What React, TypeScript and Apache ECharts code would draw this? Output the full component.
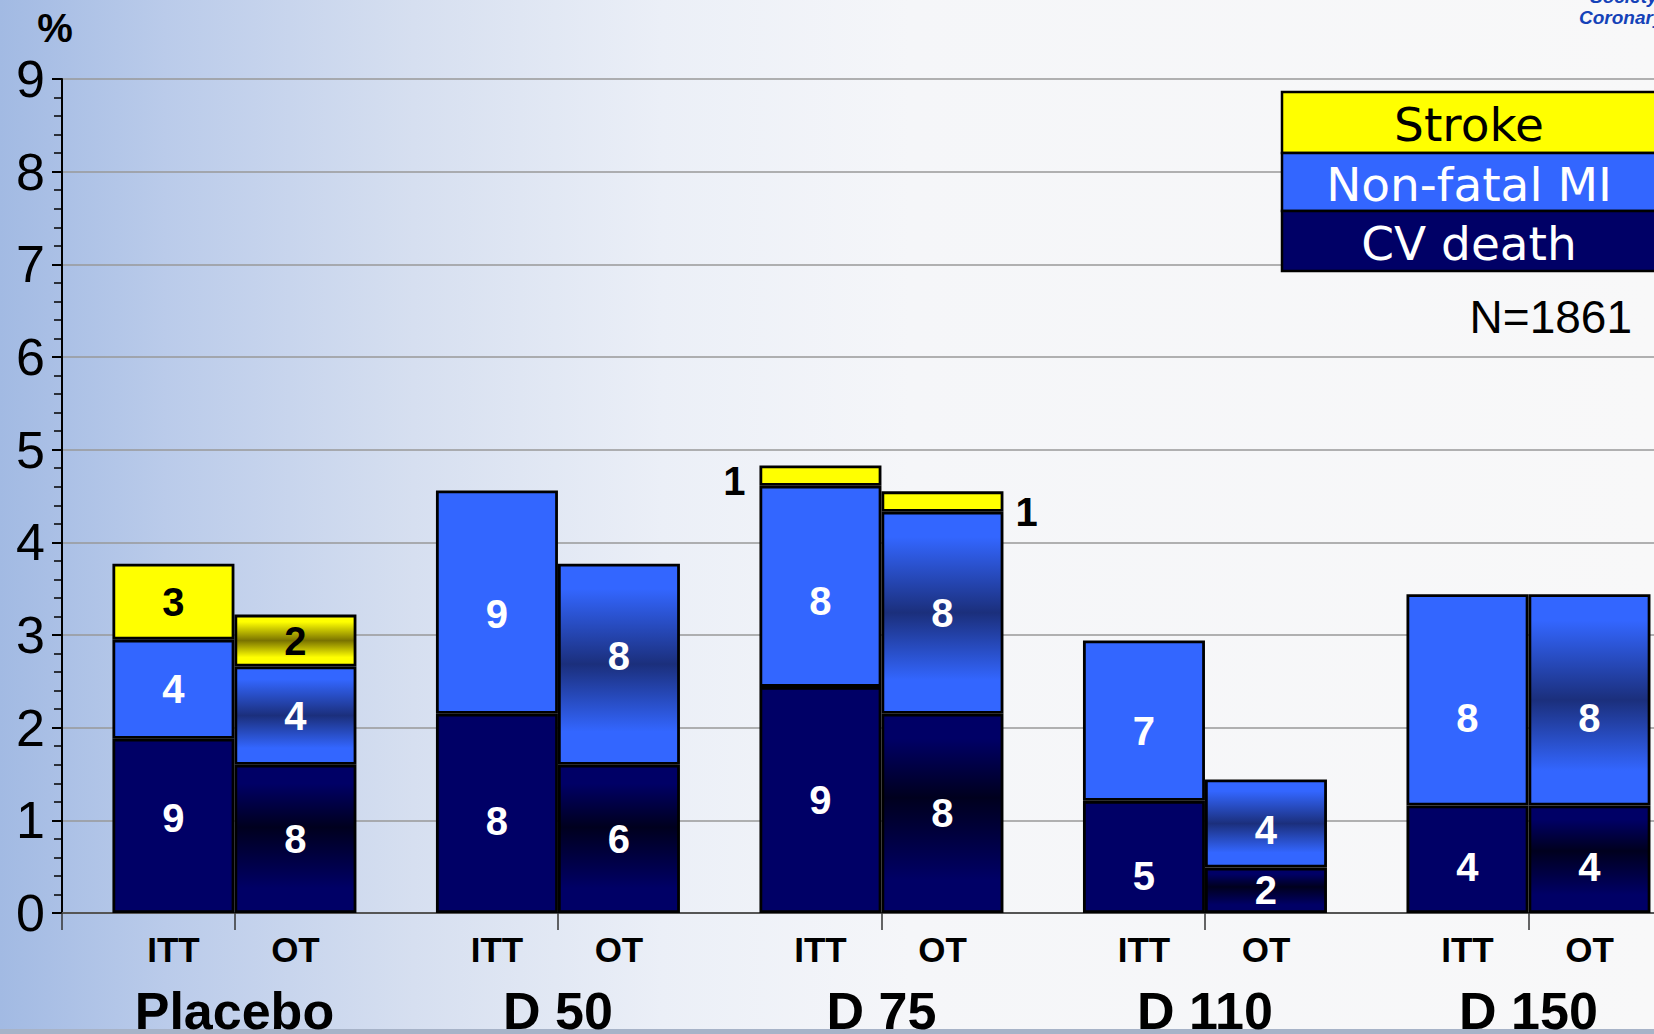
import React, { useEffect, useRef } from "react";
import * as echarts from "echarts";

// ---- data ----
const groups = ["Placebo", "D 50", "D 75", "D 110", "D 150"];
const armLabels = ["ITT", "OT"];
const legendNames = ["Stroke", "Non-fatal MI", "CV death"];
const sampleSize = "N=1861";
const yUnit = "%";

const ittCvDeath = [1.88, 2.15, 2.44, 1.21, 1.16];
const ittNonFatalMI = [1.07, 2.41, 2.17, 1.73, 2.28];
const ittStroke: (number | null)[] = [0.82, null, 0.22, null, null];
const otCvDeath = [1.6, 1.6, 2.15, 0.49, 1.16];
const otNonFatalMI = [1.06, 2.17, 2.18, 0.95, 2.28];
const otStroke: (number | null)[] = [0.56, null, 0.22, null, null];

const ittCvLabels = ["9", "8", "9", "5", "4"];
const ittMiLabels = ["4", "9", "8", "7", "8"];
const ittStrokeLabels = ["3", "", "1", "", ""];
const otCvLabels = ["8", "6", "8", "2", "4"];
const otMiLabels = ["4", "8", "8", "4", "8"];
const otStrokeLabels = ["2", "", "1", "", ""];

// group positions on the x value axis (one unit per group)
const groupPos = groups.map((_, i) => i + 1);

// ---- styles / layout ----
const NAVY = "#000066";
const NAVY_DARK = "#00001e";
const BLUE = "#3366ff";
const BLUE_DARK = "#1b2f7c";
const YELLOW = "#ffff00";
const YELLOW_DARK = "#7a7300";
const BAR_W = 122;
const LABEL_FONT = "'Liberation Sans', Arial, sans-serif";
const X_MIN = 0.467;
const X_MAX = 5.388;

// small vertical nudges of the in-bar labels (px)
const ittCvShift: Record<number, number> = { 0: -8, 1: 8, 3: 19, 4: 8 };
const ittMiShift: Record<number, number> = { 1: 12, 2: 15, 3: 10, 4: 18 };
const otCvShift: Record<number, number> = { 4: 8 };
const otMiShift: Record<number, number> = { 1: -8, 3: 6, 4: 18 };

function band(base: string, dark: string, mid: number) {
  return new echarts.graphic.LinearGradient(0, 0, 0, 1, [
    { offset: 0, color: base },
    { offset: 0.12, color: base },
    { offset: mid, color: dark },
    { offset: 0.84, color: base },
    { offset: 1, color: base },
  ]);
}

// data items are [value, groupPosition]; encode maps column 1 -> x, column 0 -> y,
// so that the stack is computed on the y values.
const ENCODE = { x: 1, y: 0 };

function segment(
  name: string,
  stack: string,
  values: (number | null)[],
  labels: string[],
  color: any,
  textColor: string,
  shift: Record<number, number> = {},
  itemOverrides: Record<number, any> = {}
) {
  return {
    type: "bar",
    name,
    stack,
    encode: ENCODE,
    barWidth: BAR_W,
    barGap: "0%",
    data: values.map((v, i) => {
      const item: any = { value: [v == null ? "-" : v, groupPos[i]] };
      if (shift[i]) item.label = { offset: [0, shift[i]] };
      if (itemOverrides[i]) Object.assign(item, itemOverrides[i]);
      return item;
    }),
    itemStyle: { color, borderColor: "#000", borderWidth: 2.8 },
    label: {
      show: true,
      position: "inside",
      color: textColor,
      fontFamily: LABEL_FONT,
      fontWeight: "bold",
      fontSize: 40,
      formatter: (p: any) => labels[p.dataIndex],
    },
  };
}

function armSeries(stack: string, text: string) {
  return {
    type: "bar",
    name: text,
    stack,
    encode: ENCODE,
    barWidth: BAR_W,
    barGap: "0%",
    data: groupPos.map((x) => [0, x]),
    itemStyle: { color: "rgba(0,0,0,0)", borderWidth: 0 },
    label: {
      show: true,
      position: "bottom",
      distance: 19,
      color: "#000",
      fontFamily: LABEL_FONT,
      fontWeight: "bold",
      fontSize: 35,
      formatter: () => text,
    },
    silent: true,
  };
}

export default function App() {
  const ref = useRef<HTMLDivElement>(null);

  useEffect(() => {
    document.body.style.margin = "0";
    if (!ref.current) return;
    const chart = echarts.init(ref.current, undefined, { renderer: "svg" });

    const legendX = 1282;
    const rowTops = [92, 153, 211];
    const rowHs = [61, 58, 60];
    const legendFills = [YELLOW, BLUE, NAVY];
    const legendText = ["#000", "#fff", "#fff"];

    const legendGraphics: any[] = [];
    legendNames.forEach((n, i) => {
      legendGraphics.push({
        type: "rect",
        shape: { x: legendX, y: rowTops[i], width: 400, height: rowHs[i] },
        style: { fill: legendFills[i], stroke: "#000", lineWidth: 2.5 },
        z: 10,
      });
      legendGraphics.push({
        type: "text",
        x: 1469,
        y: rowTops[i] + rowHs[i] / 2 + 2,
        style: {
          text: n,
          fill: legendText[i],
          font: "47px 'DejaVu Sans', sans-serif",
          textAlign: "center",
          textVerticalAlign: "middle",
        },
        z: 11,
      });
    });

    chart.setOption({
      animation: false,
      backgroundColor: new echarts.graphic.LinearGradient(0, 0, 1, 0, [
        { offset: 0, color: "#a2bae3" },
        { offset: 0.1, color: "#bacbea" },
        { offset: 0.25, color: "#d6dff0" },
        { offset: 0.4, color: "#ebeff7" },
        { offset: 0.55, color: "#f5f6f9" },
        { offset: 1, color: "#f8f8f9" },
      ]),
      grid: {
        left: 62,
        top: 79,
        bottom: 121,
        right: 0,
        containLabel: false,
        outerBoundsMode: "none",
      },
      xAxis: {
        type: "value",
        min: X_MIN,
        max: X_MAX,
        axisLine: { show: true, lineStyle: { color: "#555", width: 2 } },
        axisTick: {
          show: true,
          customValues: [X_MIN, ...groupPos],
          length: 17,
          lineStyle: { color: "#333", width: 1.5 },
        },
        axisLabel: {
          customValues: groupPos,
          margin: 72,
          color: "#000",
          fontFamily: LABEL_FONT,
          fontWeight: "bold",
          fontSize: 52,
          formatter: (v: number) => groups[Math.round(v) - 1] ?? "",
        },
        splitLine: { show: false },
      },
      yAxis: {
        type: "value",
        min: 0,
        max: 9,
        interval: 1,
        axisLine: { show: true, lineStyle: { color: "#000", width: 2 } },
        axisTick: { show: true, length: 10, lineStyle: { color: "#000", width: 2 } },
        minorTick: { show: true, splitNumber: 5, length: 8, lineStyle: { color: "#000", width: 1.5 } },
        axisLabel: {
          margin: 17,
          color: "#000",
          fontFamily: LABEL_FONT,
          fontSize: 52,
        },
        splitLine: { show: true, lineStyle: { color: "#999", width: 1.5 } },
      },
      series: [
        armSeries("itt", armLabels[0]),
        segment("CV death", "itt", ittCvDeath, ittCvLabels, NAVY, "#fff", ittCvShift),
        segment("Non-fatal MI", "itt", ittNonFatalMI, ittMiLabels, BLUE, "#fff", ittMiShift),
        segment("Stroke", "itt", ittStroke, ittStrokeLabels, YELLOW, "#000", {}, {
          2: { label: { position: "left", distance: 14, offset: [0, 5] } },
        }),
        armSeries("ot", armLabels[1]),
        segment("CV death", "ot", otCvDeath, otCvLabels, band(NAVY, NAVY_DARK, 0.42), "#fff", otCvShift),
        segment("Non-fatal MI", "ot", otNonFatalMI, otMiLabels, band(BLUE, BLUE_DARK, 0.5), "#fff", otMiShift),
        segment("Stroke", "ot", otStroke, otStrokeLabels, band(YELLOW, YELLOW_DARK, 0.5), "#000", {}, {
          2: {
            itemStyle: { color: YELLOW },
            label: { position: "right", distance: 12, offset: [0, 10] },
          },
        }),
      ],
      graphic: [
        ...legendGraphics,
        {
          type: "text",
          x: 1632,
          y: 317,
          style: {
            text: sampleSize,
            fill: "#000",
            font: "46px 'Liberation Sans', Arial, sans-serif",
            textAlign: "right",
            textVerticalAlign: "middle",
          },
        },
        {
          type: "text",
          x: 55,
          y: 28,
          style: {
            text: yUnit,
            fill: "#000",
            font: "bold 40px 'Liberation Sans', Arial, sans-serif",
            textAlign: "center",
            textVerticalAlign: "middle",
          },
        },
        {
          type: "text",
          x: 1579,
          y: 17,
          style: {
            text: "Coronary",
            fill: "#1442b8",
            font: "italic bold 19px 'Liberation Sans', Arial, sans-serif",
            textAlign: "left",
            textVerticalAlign: "middle",
          },
        },
        {
          type: "text",
          x: 1590,
          y: -4,
          style: {
            text: "Society",
            fill: "#1442b8",
            font: "italic bold 19px 'Liberation Sans', Arial, sans-serif",
            textAlign: "left",
            textVerticalAlign: "middle",
          },
        },
        {
          type: "rect",
          shape: { x: 0, y: 1029, width: 1654, height: 5 },
          style: { fill: "#a7b3c8" },
        },
      ],
    });

    return () => chart.dispose();
  }, []);

  return <div ref={ref} style={{ width: 1654, height: 1034 }} />;
}
